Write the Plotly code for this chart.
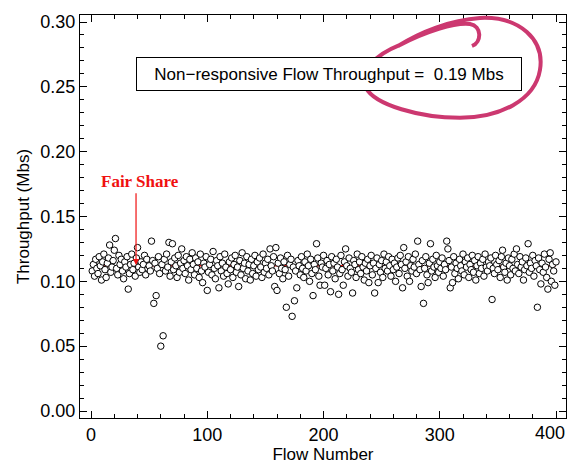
import plotly.graph_objects as go

# Per-flow throughput (Mbs), flows 1..400
throughput = [
    0.108,0.113,0.104,0.117,0.110,0.106,0.119,0.112,0.101,0.115,0.121,0.109,0.103,0.114,0.118,0.128,0.107,0.111,0.116,0.124,
    0.133,0.110,0.105,0.120,0.113,0.117,0.108,0.102,0.115,0.111,0.119,0.094,0.106,0.113,0.121,0.109,0.114,0.104,0.118,0.126,
    0.111,0.107,0.115,0.109,0.113,0.120,0.105,0.117,0.110,0.112,0.108,0.131,0.116,0.083,0.114,0.089,0.110,0.119,0.106,0.050,
    0.113,0.058,0.117,0.108,0.121,0.111,0.130,0.104,0.115,0.129,0.109,0.118,0.112,0.103,0.120,0.107,0.114,0.125,0.110,0.116,
    0.106,0.119,0.112,0.101,0.117,0.109,0.122,0.113,0.105,0.118,0.110,0.115,0.103,0.121,0.108,0.099,0.114,0.111,0.119,0.093,
    0.107,0.113,0.117,0.105,0.123,0.110,0.102,0.116,0.112,0.095,0.119,0.108,0.114,0.104,0.121,0.111,0.106,0.098,0.115,0.109,
    0.118,0.103,0.113,0.120,0.107,0.111,0.096,0.116,0.105,0.122,0.110,0.114,0.102,0.119,0.108,0.113,0.101,0.117,0.106,0.112,
    0.120,0.104,0.115,0.109,0.118,0.111,0.103,0.121,0.107,0.114,0.110,0.117,0.105,0.125,0.112,0.108,0.119,0.096,0.126,0.093,
    0.114,0.106,0.118,0.110,0.102,0.115,0.109,0.080,0.120,0.104,0.113,0.117,0.073,0.111,0.085,0.108,0.095,0.116,0.112,0.105,
    0.119,0.110,0.103,0.115,0.108,0.121,0.112,0.100,0.117,0.106,0.089,0.113,0.109,0.129,0.118,0.104,0.097,0.114,0.111,0.120,
    0.097,0.110,0.116,0.105,0.113,0.092,0.119,0.108,0.114,0.102,0.117,0.111,0.090,0.106,0.120,0.109,0.097,0.115,0.125,0.112,
    0.104,0.118,0.110,0.107,0.091,0.116,0.113,0.103,0.121,0.109,0.115,0.106,0.119,0.111,0.101,0.114,0.108,0.117,0.099,0.112,
    0.120,0.105,0.114,0.091,0.110,0.118,0.099,0.113,0.107,0.116,0.103,0.121,0.110,0.115,0.108,0.119,0.112,0.104,0.117,0.109,
    0.114,0.100,0.111,0.118,0.106,0.120,0.113,0.095,0.126,0.110,0.115,0.104,0.119,0.100,0.112,0.108,0.117,0.111,0.121,0.106,
    0.131,0.113,0.109,0.096,0.116,0.083,0.110,0.119,0.105,0.099,0.114,0.129,0.108,0.117,0.111,0.103,0.120,0.112,0.107,0.115,
    0.110,0.118,0.104,0.113,0.109,0.131,0.125,0.116,0.095,0.111,0.099,0.119,0.106,0.114,0.110,0.102,0.117,0.112,0.108,0.121,
    0.105,0.115,0.111,0.118,0.103,0.113,0.109,0.120,0.107,0.116,0.101,0.112,0.119,0.106,0.114,0.110,0.117,0.104,0.121,0.111,
    0.108,0.115,0.112,0.118,0.086,0.110,0.106,0.120,0.113,0.109,0.116,0.103,0.119,0.124,0.111,0.107,0.114,0.101,0.118,0.112,
    0.105,0.117,0.110,0.121,0.108,0.125,0.113,0.106,0.119,0.111,0.115,0.101,0.109,0.118,0.112,0.129,0.107,0.114,0.110,0.120,
    0.104,0.116,0.112,0.080,0.118,0.109,0.098,0.114,0.107,0.121,0.111,0.103,0.094,0.117,0.122,0.100,0.113,0.108,0.097,0.115,
]
flows = list(range(1, len(throughput) + 1))

fair_share = 0.112
fair_x = [0, 400]
nonresp_throughput = 0.19

y_ticks = [0.00, 0.05, 0.10, 0.15, 0.20, 0.25, 0.30]
x_ticks = [0, 100, 200, 300, 400]
x_ticktext = ["0", "100", "200", "300", ""]   # last label drawn separately to keep it inside the page
last_x_label = "400"

fig = go.Figure()
fig.add_trace(go.Scatter(
    x=fair_x, y=[fair_share, fair_share], mode="lines",
    line=dict(color="#f01010", width=1.5), hoverinfo="skip", showlegend=False))
fig.add_trace(go.Scatter(
    x=flows, y=throughput, mode="markers",
    marker=dict(symbol="circle", size=6.5, color="white", line=dict(width=1, color="black")),
    showlegend=False))

font = dict(family="Liberation Sans, Arial, Helvetica, sans-serif", size=17, color="black")
tickfont = dict(family="Liberation Sans, Arial, Helvetica, sans-serif", size=18, color="black")

fig.add_annotation(
    x=x_ticks[-1], y=0, xref="x", yref="paper", yanchor="top", xanchor="center",
    yshift=-3, xshift=-6, text=last_x_label, showarrow=False, font=tickfont)

fig.add_annotation(
    x=205, y=0.260, xref="x", yref="y",
    text="Non\u2212responsive Flow Throughput =  %.2f Mbs" % nonresp_throughput,
    showarrow=False, font=font, bordercolor="black", borderwidth=1,
    borderpad=4, bgcolor="white", width=376, height=24, align="center")

fig.add_annotation(
    x=38.7, y=fair_share + 0.0005, ax=38.7, ay=0.169, xref="x", yref="y",
    axref="x", ayref="y", text="", showarrow=True, arrowhead=2, arrowsize=1,
    arrowwidth=1.2, arrowcolor="#f01010")
fig.add_annotation(
    x=42, y=0.177, xref="x", yref="y", text="<b>Fair Share</b>", showarrow=False,
    font=dict(family="Liberation Serif, Times New Roman, serif", size=17, color="#f01010"))

# hand-drawn pink ellipse (decoration)
ell = ("M 264.1,0.2815 C 283.0,0.2923 308.8,0.3015 334.6,0.3031 "
       "C 369.0,0.3046 390.5,0.2861 386.2,0.2630 "
       "C 381.9,0.2398 351.8,0.2261 317.4,0.2261 "
       "C 283.0,0.2261 244.3,0.2360 236.6,0.2491 "
       "C 231.4,0.2630 244.3,0.2745 265.8,0.2823 "
       "C 287.3,0.2923 313.1,0.3000 326.0,0.2985 "
       "C 336.3,0.2969 336.3,0.2846 327.7,0.2815")
fig.add_shape(type="path", path=ell, xref="x", yref="y",
              line=dict(color="#cc3870", width=4), layer="above")

axis_common = dict(showline=True, linecolor="black", linewidth=1, mirror="ticks",
                   ticks="inside", ticklen=7, tickcolor="black", showgrid=False,
                   zeroline=False, tickfont=tickfont, automargin=False,
                   ticklabeloverflow="allow")
fig.update_xaxes(range=[-9.5, 408.6], tickvals=x_ticks, ticktext=x_ticktext,
                 minor=dict(ticks="inside", ticklen=4, dtick=20, tickcolor="black"),
                 title=dict(text="Flow Number", font=font, standoff=0), **axis_common)
fig.update_yaxes(range=[-0.0054, 0.3054], tickvals=y_ticks, tickformat=".2f",
                 minor=dict(ticks="inside", ticklen=4, dtick=0.01, tickcolor="black"),
                 title=dict(text="Throughput (Mbs)", font=font, standoff=6), **axis_common)

fig.update_layout(width=569, height=464, margin=dict(l=80, r=3, t=15, b=46),
                  plot_bgcolor="white", paper_bgcolor="white")
fig.write_html("out.html", config={"displayModeBar": False},
               post_script="document.body.style.margin='0';document.body.style.overflow='hidden';")
